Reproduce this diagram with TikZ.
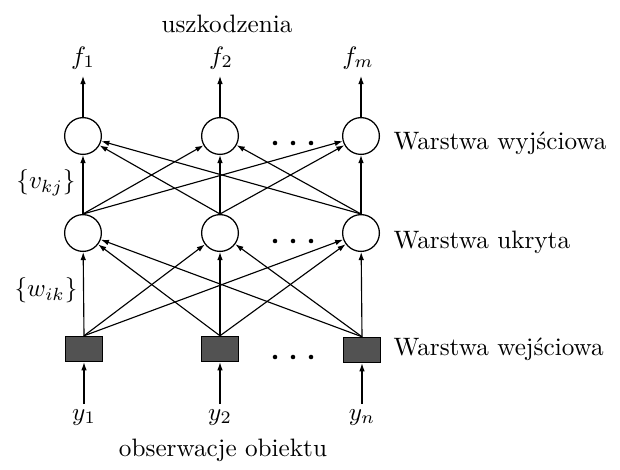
\documentclass[tikz,border=0pt]{standalone}
\usetikzlibrary{arrows.meta}
\begin{document}
\begin{tikzpicture}[x=0.397pt,y=-0.397pt,
  neuron/.style={circle,draw,line width=0.5pt,minimum size=14.6pt,inner sep=0pt},
  inbox/.style={draw,line width=0.5pt,fill=black!68,minimum width=14.5pt,minimum height=10pt,inner sep=0pt},
  conn/.style={-{Latex[length=3.2pt,width=2.2pt]},line width=0.45pt},
  lbl/.style={inner sep=0pt,anchor=base},
  layer/.style={inner sep=0pt,anchor=base west},
  dot/.style={circle,fill,inner sep=0pt,minimum size=1.8pt}]
\useasboundingbox (0,0) rectangle (620,469);

% output layer
\node[neuron] (o1) at (83,136) {};
\node[neuron] (o2) at (220,136) {};
\node[neuron] (o3) at (361,136) {};
% hidden layer
\node[neuron] (h1) at (83,233) {};
\node[neuron] (h2) at (220,233) {};
\node[neuron] (h3) at (361,233) {};
% input layer
\node[inbox] (i1) at (84,349) {};
\node[inbox] (i2) at (220,349) {};
\node[inbox] (i3) at (362,350) {};

% labels above and below
\node[lbl] (top) at (227,32) {uszkodzenia};
\node[lbl,inner ysep=2.6pt] (f1) at (83,64) {$f_1$};
\node[lbl,inner ysep=2.6pt] (f2) at (221,64) {$f_2$};
\node[lbl,inner ysep=2.6pt] (f3) at (358,64) {$f_m$};
\node[lbl,inner ysep=1.8pt] (y1) at (84,420) {$y_1$};
\node[lbl,inner ysep=1.8pt] (y2) at (220,420) {$y_2$};
\node[lbl,inner ysep=1.8pt] (y3) at (362,420) {$y_n$};
\node[lbl] (bottom) at (223,456) {obserwacje obiektu};

% weight labels
\node (v) at (46,183) {$\{v_{kj}\}$};
\node (w) at (46,290) {$\{w_{ik}\}$};

% layer names
\node[layer] (lo) at (393,149) {Warstwa wyjściowa};
\node[layer] (lh) at (393,248) {Warstwa ukryta};
\node[layer] (li) at (393,355) {Warstwa wejściowa};

% ellipses between neurons
\foreach \yy/\nm in {143/a,241/b,357/c}{
  \node[dot] (\nm1) at (275,\yy) {};
  \node[dot] (\nm2) at (293,\yy) {};
  \node[dot] (\nm3) at (311,\yy) {};
}

% outputs and inputs (vertical)
\foreach \k in {1,2,3}{
  \draw[conn] (o\k.north) -- (o\k.north |- f\k.south);
  \draw[conn] (i\k.south |- y\k.north) -- (i\k.south);
}

% input -> hidden and hidden -> output, all to all
\foreach \a in {1,2,3}{
  \foreach \b in {1,2,3}{
    \draw[conn] (h\a.north) -- (o\b);
    \draw[conn] (i\a.north) -- (h\b);
  }
}
\end{tikzpicture}
\end{document}
